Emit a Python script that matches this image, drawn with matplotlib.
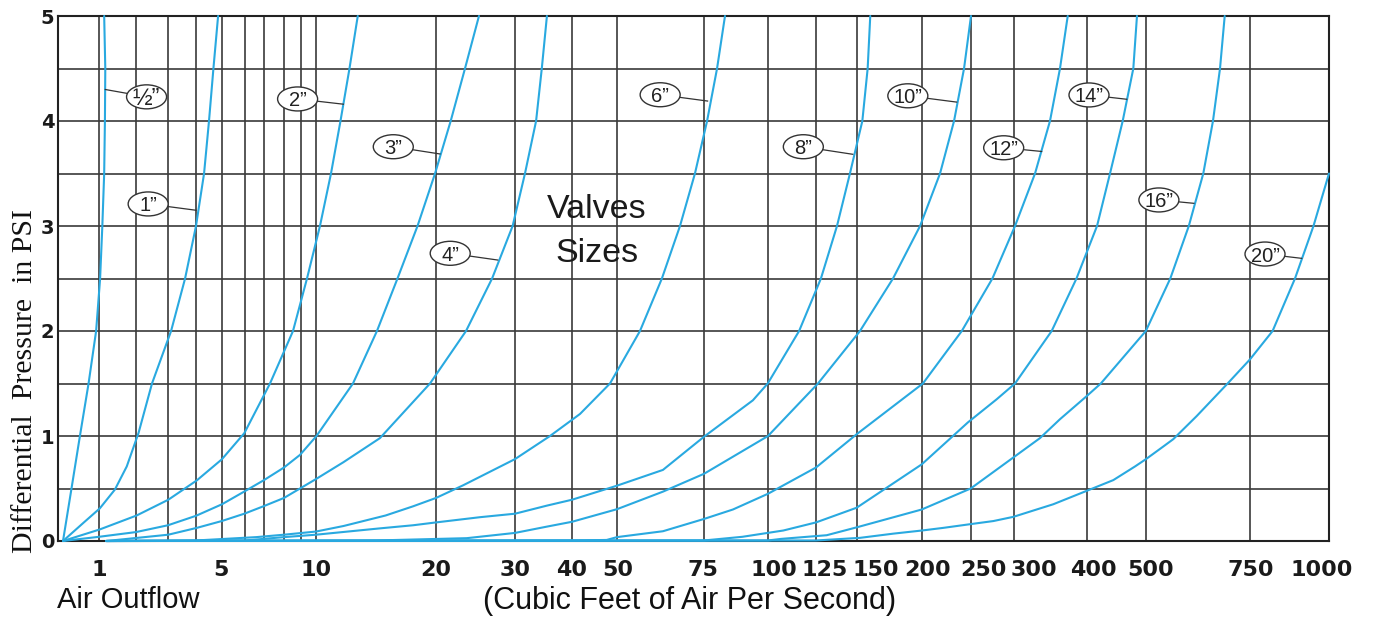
import numpy as np
import matplotlib
matplotlib.use("Agg")
import matplotlib.pyplot as plt
from matplotlib.patches import Ellipse
from matplotlib.lines import Line2D
from matplotlib.transforms import IdentityTransform, blended_transform_factory, offset_copy

# flow axis is a hand-drawn, non-uniform scale: value -> position along the axis
scale_vals = [-0.14, 0, 1, 2, 3, 4, 5, 6, 7, 8, 9, 10, 20, 30, 40, 50, 75,
              100, 125, 150, 200, 250, 300, 400, 500, 750, 1000]
scale_pos = [58, 63, 99, 136, 168, 196, 222, 245, 264, 284, 301, 316, 436, 515,
             572, 617, 704, 768, 816, 857, 922, 971, 1014, 1087, 1146, 1250, 1329]

grid_x = [1, 2, 3, 4, 5, 6, 7, 8, 9, 10, 20, 30, 40, 50, 75, 100, 125, 150,
          200, 250, 300, 400, 500, 750, 1000]
tick_x = [1, 5, 10, 20, 30, 40, 50, 75, 100, 125, 150, 200, 250, 300, 400,
          500, 750, 1000]
# sideways nudge (px) of the crowded flow labels
tick_shift = [0, -1, 0, 0, 0, 0, 1, -1, 6, 9, 19, 6, 12, 20, 6, 5, 1, -7]

# valve curves: air flow (cfs) against differential pressure (psi)
flow_05 = [0, 0.236, 0.47, 0.71, 0.92, 1.03, 1.09, 1.14, 1.16, 1.17, 1.14]
psi_05 = [0, 0.5, 1.0, 1.5, 2.0, 2.5, 3.0, 3.5, 4.0, 4.5, 5.0]

flow_1 = [0, 0.58, 1.02, 1.43, 1.75, 2.08, 2.5, 3.11, 3.61, 4.0, 4.31, 4.5, 4.67, 4.85]
psi_1 = [0, 0.177, 0.31, 0.49, 0.71, 1.03, 1.5, 2.0, 2.5, 3.0, 3.5, 4.0, 4.5, 5.0]

flow_2 = [0, 1.02, 2.02, 3.01, 4.03, 4.99, 5.97, 7.3, 8.53, 9.4, 10.33, 11.25,
          12.04, 12.79, 13.48]
psi_2 = [0, 0.11, 0.243, 0.393, 0.577, 0.777, 1.027, 1.5, 2.0, 2.5, 3.0, 3.5,
         4.0, 4.5, 5.0]

flow_3 = [0, 1.0, 2.0, 3.0, 4.0, 5.0, 5.96, 7.0, 8.0, 8.94, 10.04, 13.08,
          15.08, 16.79, 18.46, 19.92, 21.86, 23.67, 25.44]
psi_3 = [0, 0.04, 0.085, 0.15, 0.24, 0.35, 0.47, 0.58, 0.7, 0.82, 1.0, 1.5,
         2.0, 2.5, 3.0, 3.5, 4.0, 4.5, 5.0]

flow_4 = [1.2, 3.01, 4.03, 4.99, 5.97, 6.96, 8.0, 8.94, 10.0, 12.28, 15.33, 19.5,
          23.8, 27.1, 29.7, 31.75, 33.7, 34.7, 35.6]
psi_4 = [0, 0.06, 0.125, 0.19, 0.26, 0.33, 0.41, 0.5, 0.59, 0.75, 0.98, 1.5,
         2.0, 2.5, 3.0, 3.5, 4.0, 4.5, 5.0]

flow_6 = [1.2, 4.0, 6.6, 8.0, 10.0, 12.3, 15.8, 18.08, 20.0, 23.42, 30.0, 36.14,
          41.78, 48.44, 56.6, 62.9, 68.1, 72.4, 76.2, 80.1, 83.2]
psi_6 = [0, 0.005, 0.037, 0.06, 0.09, 0.143, 0.243, 0.33, 0.41, 0.53, 0.78, 1.0,
         1.21, 1.5, 2.0, 2.5, 3.0, 3.5, 4.0, 4.5, 5.0]

flow_8 = [1.2, 6.0, 8.0, 10.0, 15.3, 18.1, 20.0, 25.6, 30.0, 35.6, 40.0, 50.0,
          63.2, 75.0, 94.1, 99.9, 116.2, 128.0, 137.8, 145.7, 154.1, 158.2, 160.2]
psi_8 = [0, 0.005, 0.037, 0.06, 0.12, 0.15, 0.177, 0.227, 0.26, 0.337, 0.393, 0.527,
         0.677, 0.993, 1.34, 1.5, 2.0, 2.5, 3.0, 3.5, 4.0, 4.5, 5.0]

flow_10 = [1.2, 15.0, 23.9, 30.0, 35.6, 40.0, 50.0, 63.2, 75.0, 100.0, 115.6,
           126.2, 152.3, 177.7, 198.5, 218.4, 232.7, 242.9, 250.0]
psi_10 = [0, 0.005, 0.027, 0.077, 0.137, 0.183, 0.303, 0.47, 0.64, 1.0, 1.3,
          1.5, 2.0, 2.5, 3.0, 3.5, 4.0, 4.5, 5.0]

flow_12 = [1.2, 40.0, 47.7, 50.0, 63.2, 75.0, 86.3, 100.0, 125.0, 149.8,
           200.9, 240.6, 274.9, 301.4, 328.8, 349.3, 363.0, 373.6]
psi_12 = [0, 0.005, 0.01, 0.037, 0.093, 0.21, 0.3, 0.45, 0.7, 1.017,
          1.5, 2.0, 2.5, 3.0, 3.5, 4.0, 4.5, 5.0]

flow_14 = [1.2, 75.0, 90.0, 108.0, 125.0, 149.8, 199.8, 231.6, 246.9, 279.9,
           301.4, 351.6, 385.6, 417.0, 439.0, 460.5, 478.5, 484.7]
psi_14 = [0, 0.005, 0.04, 0.1, 0.177, 0.317, 0.73, 1.0, 1.13, 1.35,
          1.5, 2.0, 2.5, 3.0, 3.5, 4.0, 4.5, 5.0]

flow_16 = [1.2, 100.0, 106.8, 131.5, 149.8, 199.8, 249.7, 300.0, 335.6, 363.0,
           399.6, 423.4, 499.7, 558.4, 602.9, 637.7, 661.0, 677.9, 689.2]
psi_16 = [0, 0.005, 0.02, 0.055, 0.13, 0.3, 0.5, 0.8, 0.98, 1.16,
          1.38, 1.5, 2.0, 2.5, 3.0, 3.5, 4.0, 4.5, 5.0]

flow_20 = [1.2, 125.0, 152.3, 177.9, 200.0, 221.7, 249.0, 276.0, 299.2, 353.8,
           400.5, 444.6, 481.4, 500.0, 541.6, 565.6, 621.9, 696.2, 750.0,
           821.5, 892.4, 950.9, 1000.0]
psi_20 = [0, 0.005, 0.03, 0.07, 0.1, 0.125, 0.16, 0.19, 0.23, 0.35,
          0.48, 0.58, 0.71, 0.78, 0.9, 0.97, 1.19, 1.5, 1.73,
          2.0, 2.5, 3.0, 3.5]

curves = [(flow_05, psi_05), (flow_1, psi_1), (flow_2, psi_2), (flow_3, psi_3),
          (flow_4, psi_4), (flow_6, psi_6), (flow_8, psi_8), (flow_10, psi_10),
          (flow_12, psi_12), (flow_14, psi_14), (flow_16, psi_16), (flow_20, psi_20)]

# size tags: text, tag centre (cfs, psi), point on the curve (cfs, psi)
size_names = ['½”', '1”', '2”', '3”', '4”', '6”', '8”', '10”', '12”', '14”', '16”', '20”']
tag_at = [(2.33, 4.23), (2.38, 3.21), (8.8, 4.21), (16.44, 3.755), (21.8, 2.74),
          (62.4, 4.25), (118.4, 3.755), (189.1, 4.24), (288.0, 3.745),
          (403.4, 4.248), (531.0, 3.248), (797.5, 2.733)]
tag_pt = [(1.17, 4.3), (4.0, 3.15), (12.28, 4.16), (20.5, 3.686), (27.8, 2.676),
          (76.4, 4.19), (147.4, 3.683), (235.4, 4.18), (337.9, 3.71),
          (467.3, 4.207), (615.0, 3.216), (913.6, 2.692)]

blue = '#29a9e0'
grid_c = '#3a3a3a'


def fwd(x):
    return np.interp(x, scale_vals, scale_pos)


def inv(p):
    return np.interp(p, scale_pos, scale_vals)


W, H = 1374, 622
fig = plt.figure(figsize=(W / 100, H / 100), dpi=100)
ax = fig.add_axes([58 / W, 1 - 541 / H, (1329 - 58) / W, (541 - 16) / H])
ax.set_xscale('function', functions=(fwd, inv))
ax.set_xlim(-0.14, 1000)
ax.set_ylim(0, 5)

for v in grid_x:
    ax.axvline(v, color=grid_c, lw=1.2, zorder=1)
for h in np.arange(0.5, 5.0, 0.5):
    ax.axhline(h, color=grid_c, lw=1.2, zorder=1)

for fx, py in curves:
    ax.plot(fx, py, color=blue, lw=1.5, zorder=3, clip_on=False,
            solid_joinstyle='round', solid_capstyle='round')

ax.set_xticks([])
ax.xaxis.set_minor_locator(matplotlib.ticker.NullLocator())
ax.set_yticks([0, 1, 2, 3, 4, 5])
ax.set_yticklabels(['0', '1', '2', '3', '4', '5'])
ax.tick_params(axis='y', length=0, pad=2.5, labelsize=14)
for lab in ax.get_yticklabels():
    lab.set_fontweight('bold')
    lab.set_color('#1a1a1a')

# flow labels under the grid, placed on the data scale
base = blended_transform_factory(ax.transData, ax.transAxes)
for v, dx in zip(tick_x, tick_shift):
    tr = offset_copy(base, fig=fig, x=dx, y=-35, units='dots')
    ax.text(v, 0, str(v), transform=tr, ha='center', va='baseline',
            fontsize=16, fontweight='bold', color='#1a1a1a', clip_on=False)

for s in ax.spines.values():
    s.set_color('#222222')
    s.set_linewidth(1.5)

# size tags drawn in pixel space so every ellipse has the same size
ident = IdentityTransform()
rx, ry = 20, 12
for name, c, p in zip(size_names, tag_at, tag_pt):
    cx, cy = ax.transData.transform(c)
    px, py = ax.transData.transform(p)
    dx, dy = px - cx, py - cy
    t = 1.0 / np.sqrt((dx / rx) ** 2 + (dy / ry) ** 2)
    ex, ey = cx + dx * t, cy + dy * t
    fig.add_artist(Line2D([ex, px], [ey, py], color='#333333', lw=0.9,
                          transform=ident, zorder=4))
    fig.add_artist(Ellipse((cx, cy), 2 * rx, 2 * ry, fc='white', ec='#333333',
                           lw=1.0, transform=ident, zorder=5))
    fs = 17 if name.startswith('½') else 14.5
    fig.text(cx / W, cy / H, name, ha='center', va='center_baseline',
             fontsize=fs, color='#222222', family='Liberation Sans', zorder=6)

fig.text(597 / W, 1 - 210 / H, 'Valves', ha='center', va='center',
         fontsize=24.5, family='Liberation Sans', color='#1a1a1a')
fig.text(597 / W, 1 - 253 / H, 'Sizes', ha='center', va='center',
         fontsize=24.5, family='Liberation Sans', color='#1a1a1a')

fig.text(25 / W, 1 - 381 / H, 'Differential  Pressure  in PSI', rotation=90,
         ha='center', va='center', fontsize=21.5, family='Liberation Serif',
         color='#111111')
fig.text(57 / W, 1 - 600 / H, 'Air Outflow', ha='left', va='center',
         fontsize=21, family='Liberation Sans', color='#111111')
fig.text(689.5 / W, 1 - 601 / H, '(Cubic Feet of Air Per Second)', ha='center',
         va='center', fontsize=22, family='Liberation Sans', color='#111111')

fig.savefig('out.png', dpi=100)
